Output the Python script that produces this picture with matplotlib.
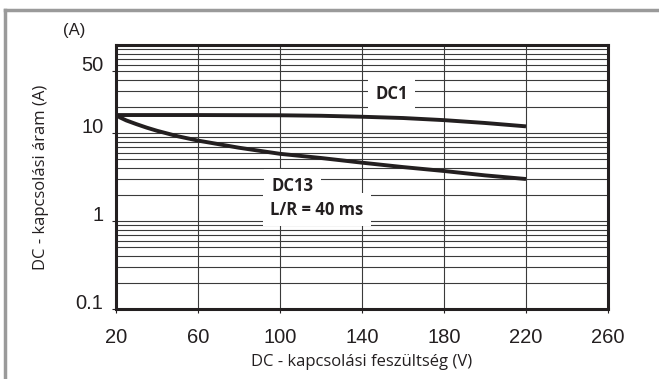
import numpy as np
import matplotlib.pyplot as plt
from matplotlib.lines import Line2D
from matplotlib.ticker import LogLocator, NullFormatter
from matplotlib.transforms import ScaledTranslation

# Data
dc1_v = [20, 60, 100, 120, 140, 160, 180, 200, 220]
dc1_a = [16.0, 16.0, 15.9, 15.7, 15.3, 14.8, 14.0, 13.0, 11.9]

dc13_v = [20, 22, 25, 30, 35, 40, 50, 60, 80, 100, 120, 140, 160, 180, 200, 220]
dc13_a = [16.0, 15.0, 13.9, 12.6, 11.5, 10.6, 9.2, 8.2, 6.8, 5.8, 5.2, 4.6, 4.1, 3.7, 3.3, 3.0]

x_ticks = [20, 60, 100, 140, 180, 220, 260]
y_ticks = [0.1, 1, 10, 50]
y_tick_labels = ["0.1", "1", "10", "50"]

INK = "#231f20"
GRID = "#3a3a3a"

fig = plt.figure(figsize=(6.59, 3.79), dpi=100)
ax = fig.add_axes([116 / 659, 1 - 309 / 379, 492 / 659, 264 / 379])

ax.set_yscale("log")
ax.set_xlim(20, 260)
ax.set_ylim(0.1, 100)

# grid
ax.set_xticks(x_ticks)
ax.set_yticks(y_ticks)
ax.set_yticklabels(y_tick_labels)
ax.yaxis.set_minor_locator(LogLocator(base=10, subs=np.arange(2, 10)))
ax.yaxis.set_minor_formatter(NullFormatter())
ax.grid(True, which="both", axis="y", color=GRID, lw=0.8)
ax.grid(True, which="major", axis="x", color=GRID, lw=0.8)
ax.tick_params(axis="y", which="minor", length=0)
ax.tick_params(axis="both", which="major", length=3, width=0.8, color=INK,
               labelsize=14.5, labelcolor=INK, direction="out")
ax.tick_params(axis="x", pad=11)
ax.tick_params(axis="y", pad=6)
for lab in ax.get_xticklabels() + ax.get_yticklabels():
    lab.set_fontfamily("Liberation Sans")
for lab in ax.get_yticklabels():
    lab.set_transform(lab.get_transform() + ScaledTranslation(0, 5.5 / 72, fig.dpi_scale_trans))

for sp in ax.spines.values():
    sp.set_linewidth(2.2)
    sp.set_color(INK)

ax.plot(dc1_v, dc1_a, color=INK, lw=2.8, solid_capstyle="butt", zorder=3)
ax.plot(dc13_v, dc13_a, color=INK, lw=2.8, solid_capstyle="butt", zorder=3)

box = dict(facecolor="white", edgecolor="none", boxstyle="square,pad=0.45")
ax.text(154.5, 28, "DC1", ha="center", va="center", fontsize=12, fontweight="bold",
        family="Open Sans", color=INK, bbox=box, zorder=4)
ax.text(106, 2.5, "DC13", ha="center", va="center", fontsize=12, fontweight="bold",
        family="Open Sans", color=INK, bbox=box, zorder=4)
ax.text(118, 1.35, "L/R = 40 ms", ha="center", va="center", fontsize=12, fontweight="bold",
        family="Open Sans", color=INK, bbox=box, zorder=4)

ax.set_xlabel("DC - kapcsolási feszültség (V)", fontsize=12, family="Open Sans",
              color=INK, labelpad=5)
ax.set_ylabel("DC - kapcsolási áram (A)", fontsize=12, family="Open Sans",
              color=INK, labelpad=19)
fig.text(74 / 659, 1 - 31 / 379, "(A)", ha="center", va="center", fontsize=12,
         family="Liberation Sans", color=INK)

# outer frame (top and left edges)
fig.add_artist(Line2D([5 / 659, 1], [1 - 10 / 379, 1 - 10 / 379], color="#9a9a9a", lw=2.5))
fig.add_artist(Line2D([5 / 659, 5 / 659], [0, 1 - 10 / 379], color="#9a9a9a", lw=2.5))

fig.savefig("out.png", dpi=100)
